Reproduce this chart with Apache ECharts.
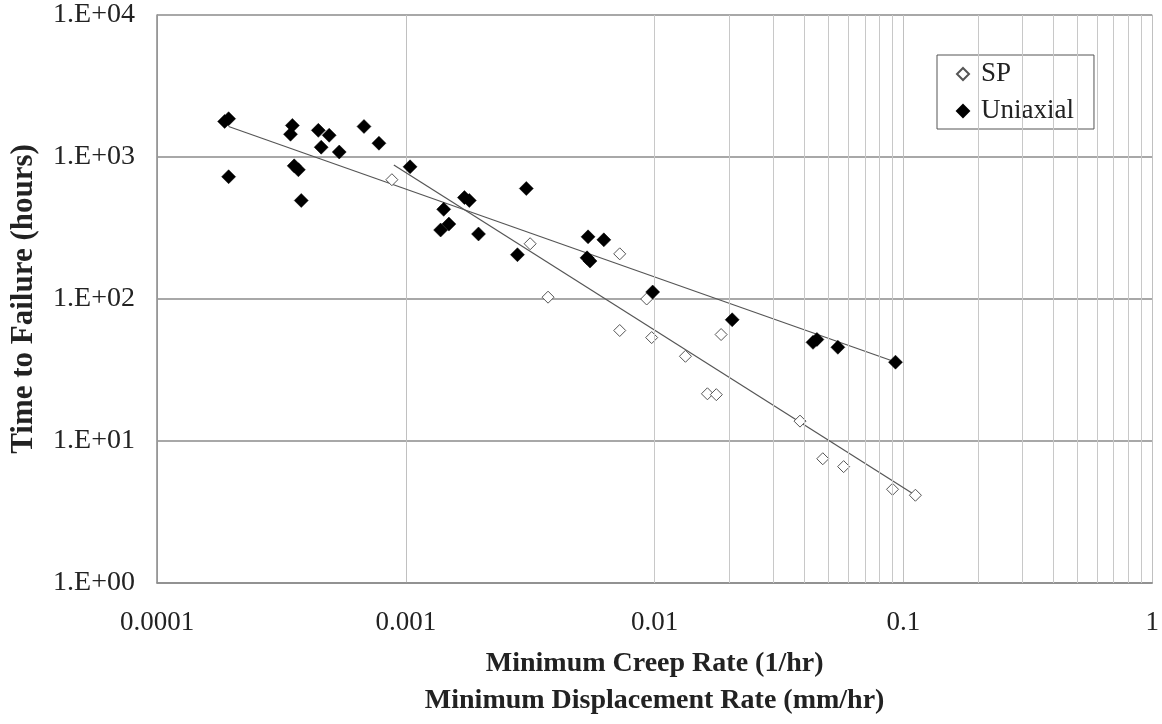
<!DOCTYPE html>
<html>
<head>
<meta charset="utf-8">
<script src="https://cdn.jsdelivr.net/npm/echarts@6/dist/echarts.min.js"></script>
<style>html,body{margin:0;padding:0;background:#fff;overflow:hidden}#c{width:1162px;height:724px}</style>
</head>
<body>
<div id="c"></div>
<script>
// Data: [rate, time to failure]
const spData = [
  [8.79e-4, 692], [3.16e-3, 245], [3.73e-3, 103], [7.24e-3, 208], [9.29e-3, 100],
  [7.24e-3, 60], [9.73e-3, 53.5], [0.0133, 39.5], [0.0163, 21.5], [0.0177, 21.2],
  [0.0185, 56.2], [0.0384, 13.8], [0.0474, 7.5], [0.0575, 6.6], [0.0904, 4.57],
  [0.1117, 4.15]
];
const uniData = [
  [1.87e-4, 1780], [1.94e-4, 1860], [1.94e-4, 726], [3.50e-4, 1668], [3.44e-4, 1446],
  [3.56e-4, 866], [3.70e-4, 813], [3.80e-4, 494], [4.45e-4, 1540], [4.92e-4, 1422],
  [4.57e-4, 1172], [5.40e-4, 1084], [6.79e-4, 1640], [7.80e-4, 1250], [1.04e-3, 853],
  [1.42e-3, 428], [1.38e-3, 306], [1.49e-3, 337], [1.72e-3, 518], [1.80e-3, 494],
  [1.96e-3, 287], [3.05e-3, 600], [2.81e-3, 205], [5.40e-3, 274], [6.25e-3, 261],
  [5.35e-3, 195], [5.50e-3, 185], [9.82e-3, 112], [0.0205, 71.4], [0.0433, 49.5],
  [0.0449, 51.9], [0.0545, 45.7], [0.0929, 35.9]
];
// Trend line end points
const spTrend = [[8.95e-4, 880], [0.1117, 4.15]];
const uniTrend = [[1.94e-4, 1640], [0.0929, 36]];
// Axis ranges
const xRange = [0.0001, 1];
const yRange = [1, 10000];
const xMinorGrid = [];
for (let e = -4; e < 0; e++) for (let m = 2; m <= 9; m++) xMinorGrid.push(+(m * Math.pow(10, e)).toPrecision(3));

const chart = echarts.init(document.getElementById('c'), null, {renderer: 'canvas', width: 1162, height: 724});
const serif = '"Liberation Serif", "DejaVu Serif", serif';
chart.setOption({
  animation: false,
  backgroundColor: '#fff',
  grid: {left: 155, width: 998, top: 15, height: 577, containLabel: false},
  legend: {
    orient: 'vertical', left: 937, top: 55,
    padding: [5, 20, 4, 19], itemGap: 9,
    borderColor: '#555', borderWidth: 1, backgroundColor: '#fff',
    itemWidth: 12, itemHeight: 12,
    textStyle: {fontFamily: serif, fontSize: 27, color: '#222', padding: [0, 0, 0, 7], lineHeight: 28},
    data: ['SP', 'Uniaxial']
  },
  xAxis: {
    type: 'log', logBase: 10, min: xRange[0], max: xRange[1],
    axisLine: {lineStyle: {color: '#8a8a8a', width: 1.5}},
    axisTick: {show: false},
    splitLine: {show: true, lineStyle: {color: '#c0c0c0', width: 1}},
    axisLabel: {
      fontFamily: serif, fontSize: 27, color: '#222', margin: 26,
      formatter: v => String(+v.toPrecision(3))
    },
    name: 'Minimum Creep Rate (1/hr)\nMinimum Displacement Rate (mm/hr)',
    nameLocation: 'middle', nameGap: 62,
    nameTextStyle: {fontFamily: serif, fontSize: 28, fontWeight: 'bold', color: '#222', lineHeight: 37}
  },
  yAxis: {
    type: 'log', logBase: 10, min: yRange[0], max: yRange[1],
    axisLine: {lineStyle: {color: '#8a8a8a', width: 1.5}},
    axisTick: {show: false},
    splitLine: {show: true, lineStyle: {color: '#a8a8a8', width: 1.8}},
    axisLabel: {
      fontFamily: serif, fontSize: 28, color: '#222', margin: 22,
      formatter: v => '1.E+' + String(Math.round(Math.log10(v))).padStart(2, '0')
    },
    name: 'Time to Failure (hours)',
    nameLocation: 'middle', nameGap: 118, nameRotate: 90,
    nameTextStyle: {fontFamily: serif, fontSize: 31, fontWeight: 'bold', color: '#222'}
  },
  series: [
    {
      type: 'line', data: [], silent: true, symbol: 'none',
      markLine: {
        silent: true, symbol: 'none', label: {show: false},
        lineStyle: {color: '#c8c8c8', width: 1, type: 'solid'},
        data: xMinorGrid.map(v => ({xAxis: v}))
      }
    },
    {
      name: 'SP', type: 'scatter', data: spData, symbol: 'diamond', symbolSize: 12, z: 4,
      itemStyle: {color: '#fff', borderColor: '#555', borderWidth: 1, opacity: 1}
    },
    {
      name: 'Uniaxial', type: 'scatter', data: uniData, symbol: 'diamond', symbolSize: 14, z: 5,
      itemStyle: {color: '#000', borderColor: '#000', borderWidth: 0.5, opacity: 1}
    },
    {
      type: 'line', data: spTrend, symbol: 'none', z: 3, silent: true,
      lineStyle: {color: '#555', width: 1.2}
    },
    {
      type: 'line', data: uniTrend, symbol: 'none', z: 3, silent: true,
      lineStyle: {color: '#555', width: 1.2}
    }
  ]
});
</script>
</body>
</html>
